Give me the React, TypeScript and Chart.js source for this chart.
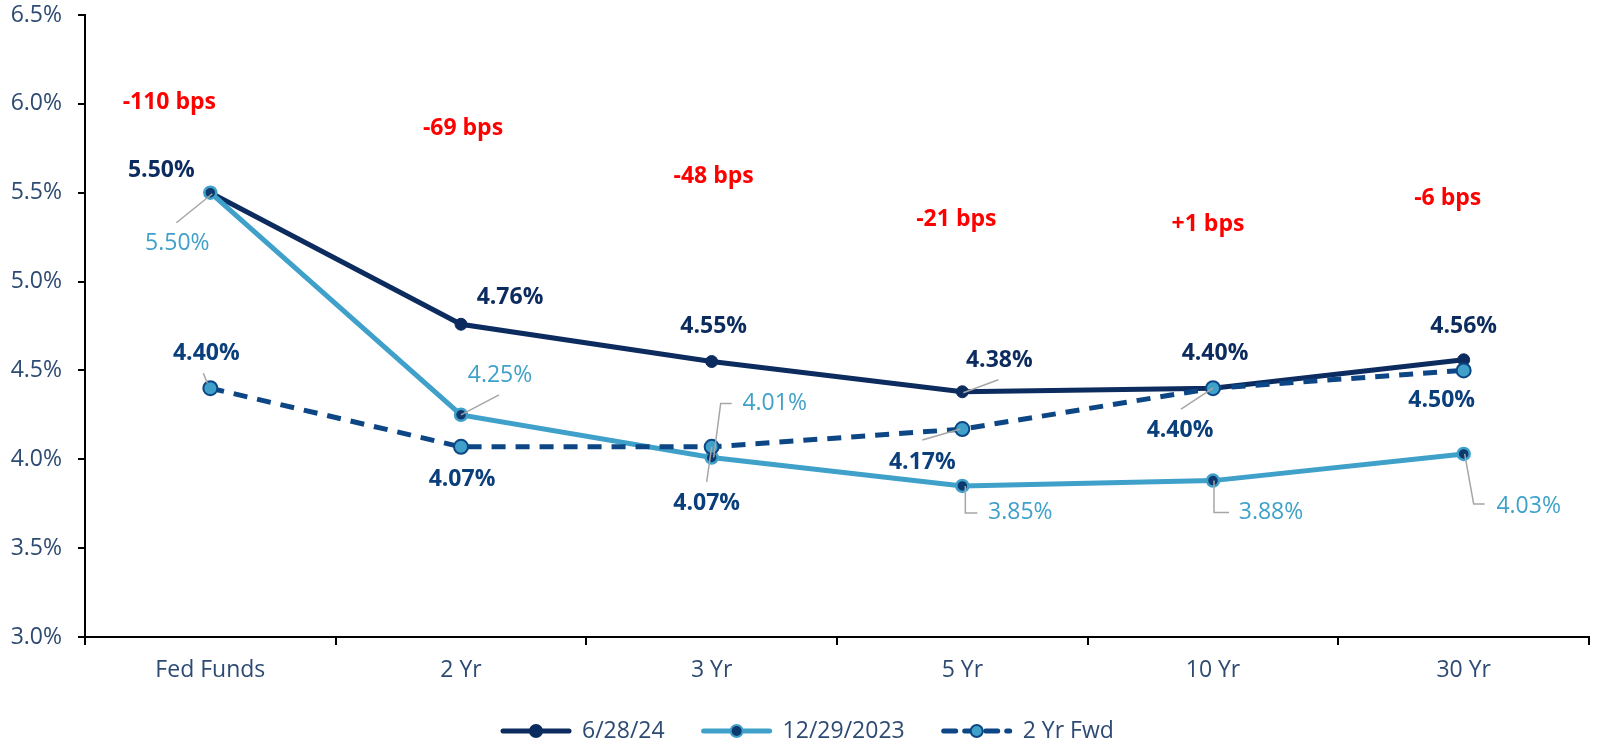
import React, { useEffect, useRef } from "react";
import { Chart, registerables } from "chart.js";

Chart.register(...registerables);

const categories = ["Fed Funds", "2 Yr", "3 Yr", "5 Yr", "10 Yr", "30 Yr"];
const seriesNames = ["6/28/24", "12/29/2023", "2 Yr Fwd"];
const current = [5.5, 4.76, 4.55, 4.38, 4.4, 4.56];
const yearEnd = [5.5, 4.25, 4.01, 3.85, 3.88, 4.03];
const forward = [4.4, 4.07, 4.07, 4.17, 4.4, 4.5];
const bpsLabels = ["-110 bps", "-69 bps", "-48 bps", "-21 bps", "+1 bps", "-6 bps"];

// label placement (style/position config, not data)
const bpsPos = [
  { dx: -41, v: 6.01 },
  { dx: 2, v: 5.86 },
  { dx: 2, v: 5.59 },
  { dx: -6, v: 5.35 },
  { dx: -5, v: 5.32 },
  { dx: -16, v: 5.47 },
];
type LP = { dx: number; dy: number; leader?: number[][] };
const currentLbl: LP[] = [
  { dx: -49, dy: -22 },
  { dx: 49, dy: -27 },
  { dx: 2, dy: -35 },
  { dx: 37, dy: -31, leader: [[1, 1], [36, -12]] },
  { dx: 2, dy: -35 },
  { dx: 0, dy: -33 },
];
const yearEndLbl: LP[] = [
  { dx: -33, dy: 51, leader: [[2, 1], [-34, 30]] },
  { dx: 39, dy: -39, leader: [[0, 0], [38, -20]] },
  { dx: 63, dy: -54, leader: [[2, 0], [9, -54], [20, -54]] },
  { dx: 58, dy: 27, leader: [[3, 0], [3, 27], [15, 27]] },
  { dx: 58, dy: 32, leader: [[1, 0], [1, 32], [16, 32]] },
  { dx: 65, dy: 52, leader: [[1, 0], [10, 50], [21, 50]] },
];
const forwardLbl: LP[] = [
  { dx: -4, dy: -35, leader: [[-3, -5], [-7, -15]] },
  { dx: 1, dy: 33 },
  { dx: -5, dy: 57, leader: [[0, 0], [-5, 35]] },
  { dx: -40, dy: 33, leader: [[-2, 0], [-40, 11]] },
  { dx: -33, dy: 42, leader: [[0, 0], [-32, 21]] },
  { dx: -22, dy: 30 },
];

const NAVY = "#0c2b5e";
const LIGHT = "#3fa1ca";
const FWD = "#0d4685";
const TICK = "#2d4a73";
const FONT = "'Open Sans', 'Noto Sans', sans-serif";

const labelPlugin = {
  id: "labels",
  afterDatasetsDraw(chart: any) {
    const ctx = chart.ctx;
    const x = chart.scales.x;
    const y = chart.scales.y;
    ctx.save();
    ctx.textAlign = "center";
    ctx.textBaseline = "middle";
    const specs = [
      { data: current, lbl: currentLbl, color: NAVY, font: `bold 23px ${FONT}` },
      { data: yearEnd, lbl: yearEndLbl, color: LIGHT, font: `23px ${FONT}` },
      { data: forward, lbl: forwardLbl, color: "#0b3f7c", font: `bold 23px ${FONT}` },
    ];
    specs.forEach((s) => {
      s.data.forEach((v, i) => {
        const px = x.getPixelForValue(i);
        const py = y.getPixelForValue(v);
        const l = s.lbl[i];
        if (l.leader) {
          ctx.strokeStyle = "#a6a6a6";
          ctx.lineWidth = 1.5;
          ctx.beginPath();
          l.leader.forEach((p, k) => {
            if (k === 0) ctx.moveTo(px + p[0], py + p[1]);
            else ctx.lineTo(px + p[0], py + p[1]);
          });
          ctx.stroke();
        }
        ctx.fillStyle = s.color;
        ctx.font = s.font;
        ctx.fillText(v.toFixed(2) + "%", px + l.dx, py + l.dy);
      });
    });
    ctx.fillStyle = "#ff0000";
    ctx.font = `bold 23px ${FONT}`;
    bpsLabels.forEach((t, i) => {
      ctx.fillText(t, x.getPixelForValue(i) + bpsPos[i].dx, y.getPixelForValue(bpsPos[i].v));
    });
    ctx.restore();
  },
};

const legendPlugin = {
  id: "customLegend",
  afterDraw(chart: any) {
    const ctx = chart.ctx;
    ctx.save();
    ctx.font = `23px ${FONT}`;
    ctx.textBaseline = "middle";
    const lineW = 72;
    const gapText = 10;
    const gapItem = 36;
    const widths = seriesNames.map((n) => ctx.measureText(n).width);
    let cx = 500;
    const cy = 731;
    const styles = [
      { stroke: NAVY, dash: [] as number[], fill: NAVY, border: NAVY },
      { stroke: LIGHT, dash: [] as number[], fill: "#0c3a6e", border: LIGHT },
      { stroke: FWD, dash: [12, 9], fill: LIGHT, border: FWD },
    ];
    seriesNames.forEach((n, i) => {
      const st = styles[i];
      ctx.strokeStyle = st.stroke;
      ctx.lineWidth = 5;
      ctx.lineCap = "round";
      ctx.setLineDash(st.dash);
      ctx.beginPath();
      ctx.moveTo(cx + 3, cy);
      ctx.lineTo(cx + lineW - 3, cy);
      ctx.stroke();
      ctx.setLineDash([]);
      ctx.beginPath();
      ctx.arc(cx + lineW / 2, cy, 6, 0, Math.PI * 2);
      ctx.fillStyle = st.fill;
      ctx.fill();
      ctx.lineWidth = 2;
      ctx.strokeStyle = st.border;
      ctx.stroke();
      ctx.fillStyle = TICK;
      ctx.textAlign = "left";
      ctx.fillText(n, cx + lineW + gapText, cy);
      cx += lineW + gapText + widths[i] + gapItem;
    });
    ctx.restore();
  },
};

export default function App() {
  const ref = useRef<HTMLCanvasElement | null>(null);
  useEffect(() => {
    document.body.style.margin = "0";
    const chart = new Chart(ref.current as HTMLCanvasElement, {
      type: "line",
      data: {
        labels: categories,
        datasets: [
          {
            label: seriesNames[0],
            data: current,
            borderColor: NAVY,
            backgroundColor: NAVY,
            borderWidth: 5,
            pointRadius: 6,
            pointBackgroundColor: NAVY,
            pointBorderColor: NAVY,
            pointBorderWidth: 1,
            tension: 0,
            order: 3,
          },
          {
            label: seriesNames[1],
            data: yearEnd,
            borderColor: LIGHT,
            backgroundColor: LIGHT,
            borderWidth: 5,
            pointRadius: 6,
            pointBackgroundColor: "#0c3a6e",
            pointBorderColor: LIGHT,
            pointBorderWidth: 2.5,
            tension: 0,
            order: 2,
          },
          {
            label: seriesNames[2],
            data: forward,
            borderColor: FWD,
            backgroundColor: FWD,
            borderWidth: 5,
            borderDash: [14, 10],
            pointRadius: 7,
            pointBackgroundColor: LIGHT,
            pointBorderColor: FWD,
            pointBorderWidth: 2,
            tension: 0,
            order: 1,
          },
        ],
      },
      options: {
        responsive: false,
        animation: false,
        devicePixelRatio: 1,
        layout: { padding: { top: 15, right: 0, left: 0, bottom: 50 } },
        plugins: { legend: { display: false }, tooltip: { enabled: false } },
        scales: {
          x: {
            offset: true,
            grid: {
              offset: true,
              drawOnChartArea: false,
              tickLength: 8,
              color: "#000",
              lineWidth: 2,
            },
            border: { color: "#000", width: 2 },
            ticks: { color: TICK, font: { family: FONT, size: 23 }, padding: 12 },
            afterFit: (s: any) => {
              s.height = 57;
              s.paddingLeft = 0;
              s.paddingRight = 0;
            },
          },
          y: {
            min: 3,
            max: 6.5,
            grid: { drawOnChartArea: false, tickLength: 7, color: "#000", lineWidth: 2 },
            border: { color: "#000", width: 2 },
            ticks: {
              stepSize: 0.5,
              color: TICK,
              font: { family: FONT, size: 23 },
              padding: 16,
              callback: (v: any) => Number(v).toFixed(1) + "%",
            },
            afterFit: (s: any) => {
              s.width = 85;
              s.paddingTop = 0;
              s.paddingBottom = 0;
            },
          },
        },
      },
      plugins: [labelPlugin, legendPlugin],
    });
    return () => chart.destroy();
  }, []);
  return (
    <div style={{ width: 1598, height: 744 }}>
      <canvas ref={ref} width={1598} height={744} />
    </div>
  );
}
